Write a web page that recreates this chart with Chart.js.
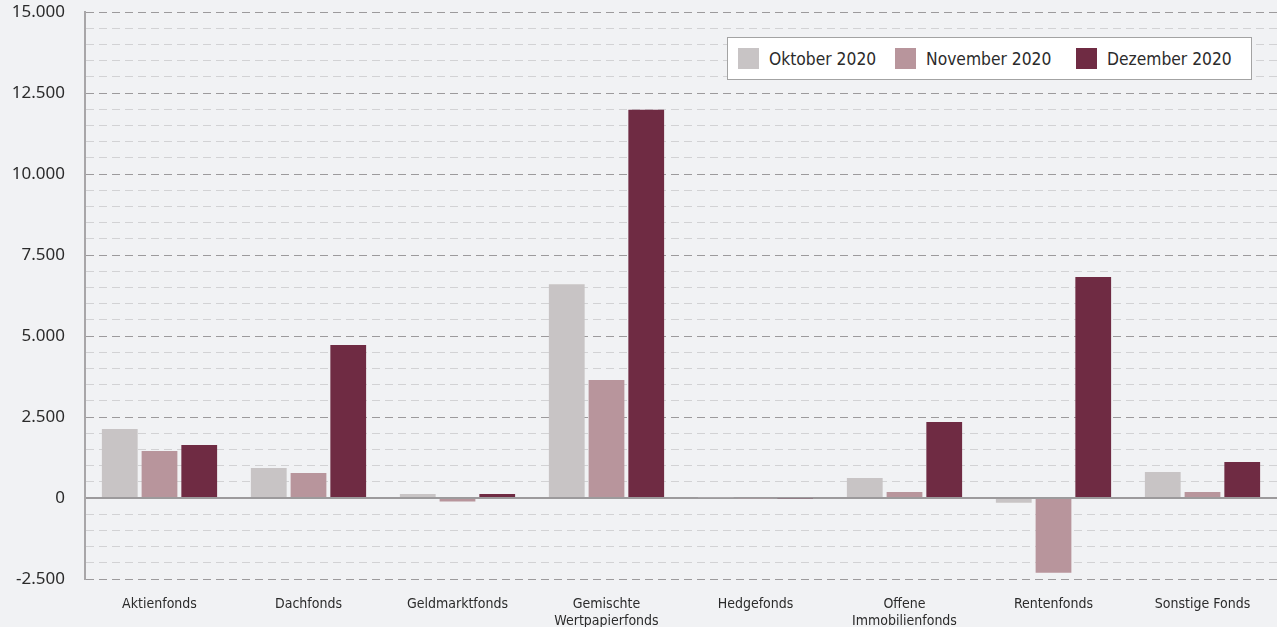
<!DOCTYPE html>
<html lang="de">
<head>
<meta charset="utf-8">
<script src="https://cdn.jsdelivr.net/npm/chart.js@4.4.1/dist/chart.umd.min.js"></script>
<style>
  html, body { margin: 0; padding: 0; background: #f1f2f4; }
  #wrap { position: relative; width: 1277px; height: 627px; }
  #legende {
    position: absolute; left: 727px; top: 37px; width: 523px; height: 41px;
    background: #fff; border: 1px solid #a3a3a3;
    font-family: "DejaVu Sans Condensed", "DejaVu Sans", sans-serif; font-size: 17.3px; color: #2b2b2b;
  }
  #legende .item { position: absolute; top: 10px; display: flex; align-items: center; height: 21px; }
  #legende .box { width: 21px; height: 21px; margin-right: 10px; }
</style>
</head>
<body>
<div id="wrap">
  <canvas id="fonds" width="1277" height="627"></canvas>
  <div id="legende"></div>
</div>
<script>
// Mittelaufkommen nach Fondsart
const kategorien = ['Aktienfonds', 'Dachfonds', 'Geldmarktfonds', ['Gemischte', 'Wertpapierfonds'],
  'Hedgefonds', ['Offene', 'Immobilienfonds'], 'Rentenfonds', 'Sonstige Fonds']
const monate = ['Oktober 2020', 'November 2020', 'Dezember 2020']
const oktober  = [2130, 925, 120, 6600, 20, 615, -150, 800]
const november = [1450, 770, -110, 3640, -20, 185, -2310, 185]
const dezember = [1635, 4720, 125, 11980, -20, 2345, 6820, 1110]
const farben = ['#c8c4c5', '#b8959c', '#6f2b43']
const yMin = -2500, yMax = 15000, yStep = 500, yHaupt = 2500

let werte = [oktober, november, dezember]
let legX = [10, 167, 348]

let datasets = monate.map((m, i) => ({
  label: m,
  data: werte[i],
  backgroundColor: farben[i],
  categoryPercentage: 0.8,
  barPercentage: 0.9
}))

// eigene Legende im weissen Kasten
let leg = document.getElementById('legende')
monate.forEach((m, i) => {
  let el = document.createElement('div')
  el.className = 'item'
  el.style.left = legX[i] + 'px'
  el.innerHTML = '<span class="box" style="background:' + farben[i] + '"></span>' + m
  leg.appendChild(el)
})

function istHaupt(v) { return v % yHaupt === 0 }

let ctx = document.getElementById('fonds').getContext('2d')
let chart = new Chart(ctx, {
  type: 'bar',
  data: { labels: kategorien, datasets: datasets },
  options: {
    responsive: false,
    animation: false,
    layout: { padding: { top: 12, right: 0, left: 0, bottom: 0 } },
    plugins: { legend: { display: false }, tooltip: { enabled: false } },
    scales: {
      x: {
        grid: { display: false },
        border: { display: false },
        ticks: {
          color: '#2b2b2b',
          font: { family: 'DejaVu Sans Condensed', size: 14, lineHeight: 1.2 },
          padding: 9,
          maxRotation: 0,
          autoSkip: false
        },
        afterFit: s => { s.height = 48 }
      },
      y: {
        min: yMin,
        max: yMax,
        ticks: {
          stepSize: yStep,
          autoSkip: false,
          color: '#2b2b2b',
          padding: 20,
          font: { family: 'Noto Sans', size: 17 },
          callback: v => istHaupt(v) ? v.toLocaleString('de-DE') : ''
        },
        grid: {
          drawTicks: false,
          lineWidth: c => (c.tick && c.tick.value === 0) ? 2 : 1,
          color: c => {
            if (!c.tick) return '#d2d2d4'
            if (c.tick.value === 0) return '#9c9a9c'
            return istHaupt(c.tick.value) ? '#9c9a9c' : '#d2d2d4'
          }
        },
        border: {
          display: true,
          color: '#a8a6a8',
          width: 2,
          dash: c => (c.tick && c.tick.value === 0) ? [] : [8, 5]
        },
        afterFit: s => { s.width = 85; s.paddingTop = 0; s.paddingBottom = 0 }
      }
    }
  }
})
</script>
</body>
</html>
